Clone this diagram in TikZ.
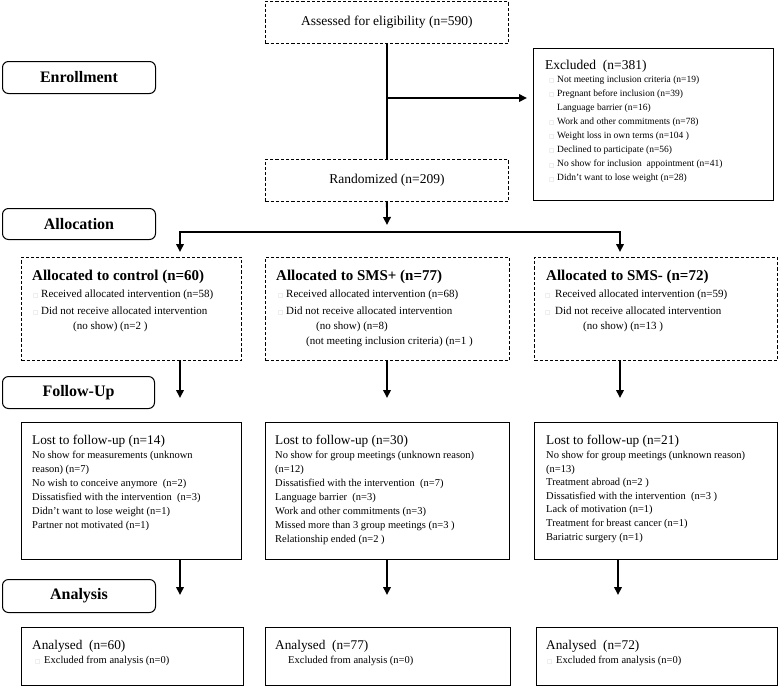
\documentclass[tikz,border=0pt]{standalone}
\usepackage{fontspec}
\setmainfont{Liberation Serif}
\newfontfamily\symfont{DejaVu Sans}
\usetikzlibrary{arrows.meta}
\newcommand\fsz[1]{\fontsize{#1}{#1}\selectfont}
\newcommand\bul{{\symfont\color{gray!45}\fsz{5.5}□}}
\begin{document}
\begin{tikzpicture}[x=1pt,y=-1pt,
  dbox/.style={draw, dash pattern=on 3.2pt off 2pt, line width=0.85pt, inner sep=0, anchor=north west},
  sbox/.style={draw, line width=0.95pt, inner sep=0, anchor=north west},
  stage/.style={draw, rounded corners=6pt, line width=1pt, inner sep=0, anchor=north west, font=\bfseries\fsz{16}},
  conn/.style={line width=1.9pt},
  arr/.style={conn, -{Triangle[length=8pt,width=7.5pt]}},
  t/.style={inner sep=0, anchor=west},
  head/.style={inner sep=0, font=\fsz{13.5}},
  ttl/.style={t, font=\bfseries\fsz{15}},
  ai/.style={t, font=\fsz{11}},
  ei/.style={t, font=\fsz{9.5}},
  li/.style={t, font=\fsz{10.5}},
  lt/.style={t, font=\fsz{13.3}},
  nt/.style={t, font=\fsz{13.3}},
  ni/.style={t, font=\fsz{10.5}}]
\useasboundingbox (0,0) rectangle (778,686);
\fill[white] (0,0) rectangle (778,686);

% ---- boxes
\node[dbox, minimum width=243, minimum height=42] (assess) at (265,1) {};
\node[head] (assessT) at (assess.center) {Assessed for eligibility (n=590)};
\node[sbox, minimum width=240, minimum height=152] (excl) at (533,48) {};
\node[dbox, minimum width=243, minimum height=42] (rand) at (265,159) {};
\node[head] (randT) at (rand.center) {Randomized (n=209)};

\node[stage, minimum width=153, minimum height=32] (enr) at (2,61) {Enrollment};
\node[stage, minimum width=153, minimum height=31] (alloc) at (2,208) {Allocation};
\node[stage, minimum width=152, minimum height=32] (fol) at (2,376) {Follow-Up};
\node[stage, minimum width=153, minimum height=33] (ana) at (2,579) {Analysis};

\node[dbox, minimum width=220, minimum height=103] (ac) at (21,257) {};
\node[dbox, minimum width=244, minimum height=103] (ap) at (265,257) {};
\node[dbox, minimum width=243, minimum height=103] (am) at (534,257) {};

\node[sbox, minimum width=220, minimum height=137] (lc) at (21,422) {};
\node[sbox, minimum width=244, minimum height=137] (lp) at (265,422) {};
\node[sbox, minimum width=243, minimum height=137] (lm) at (534,422) {};

\node[sbox, minimum width=222, minimum height=58] (nc) at (21,627) {};
\node[sbox, minimum width=245, minimum height=58] (np) at (265,627) {};
\node[sbox, minimum width=241, minimum height=58] (nm) at (536,627) {};

% ---- excluded text
\node[t, font=\fsz{13.5}] (exT) at (545,66) {Excluded\ \ (n=381)};
\foreach \b/\s [count=\i] in {1/Not meeting inclusion criteria (n=19),
  1/Pregnant before inclusion (n=39), 0/Language barrier (n=16),
  1/Work and other commitments (n=78), 1/Weight loss in own terms (n=104 ),
  1/Declined to participate (n=56), 1/No show for inclusion\ \ appointment (n=41),
  1/Didn’t want to lose weight (n=28)}{
  \node[ei] (ex\i) at (557,{80+14.1*(\i-1)}) {\s};
  \ifnum\b=1 \node[t] (exb\i) at (549,{81+14.1*(\i-1)}) {\bul};\fi
}

% ---- allocation text
\node[ttl] (acT) at (32,277) {Allocated to control (n=60)};
\node[ai] (ac1) at (33,295) {\makebox[8pt][l]{\bul}Received allocated intervention (n=58)};
\node[ai] (ac2) at (33,311) {\makebox[8pt][l]{\bul}Did not receive allocated intervention};
\node[ai] (ac3) at (73,327) {(no show) (n=2 )};

\node[ttl] (apT) at (276,277) {Allocated to SMS+ (n=77)};
\node[ai] (ap1) at (278,295) {\makebox[8pt][l]{\bul}Received allocated intervention (n=68)};
\node[ai] (ap2) at (278,311) {\makebox[8pt][l]{\bul}Did not receive allocated intervention};
\node[ai] (ap3) at (316,327) {(no show) (n=8)};
\node[ai] (ap4) at (306,342) {(not meeting inclusion criteria) (n=1 )};

\node[ttl] (amT) at (546,277) {Allocated to SMS- (n=72)};
\node[ai] (am1) at (545,295) {\makebox[10pt][l]{\bul}Received allocated intervention (n=59)};
\node[ai] (am2) at (545,311) {\makebox[10pt][l]{\bul}Did not receive allocated intervention};
\node[ai] (am3) at (583,327) {(no show) (n=13 )};

% ---- lost to follow-up text
\node[lt] (lcT) at (32,441) {Lost to follow-up (n=14)};
\foreach \s [count=\i] in {No show for measurements (unknown, reason) (n=7),
  No wish to conceive anymore\ \ (n=2), Dissatisfied with the intervention\ \ (n=3),
  Didn’t want to lose weight (n=1), Partner not motivated (n=1)}{
  \node[li] (lc\i) at (32,{456+14*(\i-1)}) {\s};
}
\node[lt] (lpT) at (275,441) {Lost to follow-up (n=30)};
\foreach \s [count=\i] in {No show for group meetings (unknown reason), (n=12),
  Dissatisfied with the intervention\ \ (n=7), Language barrier\ \ (n=3),
  Work and other commitments (n=3), Missed more than 3 group meetings (n=3 ),
  Relationship ended (n=2 )}{
  \node[li] (lp\i) at (275,{456+14*(\i-1)}) {\s};
}
\node[lt] (lmT) at (546,441) {Lost to follow-up (n=21)};
\foreach \s [count=\i] in {No show for group meetings (unknown reason), (n=13),
  Treatment abroad (n=2 ), Dissatisfied with the intervention\ \ (n=3 ),
  Lack of motivation (n=1), Treatment for breast cancer (n=1),
  Bariatric surgery (n=1)}{
  \node[li] (lm\i) at (546,{456+13.6*(\i-1)}) {\s};
}

% ---- analysis text
\node[nt] (ncT) at (32,646) {Analysed\ \ (n=60)};
\node[ni] (nc1) at (35,661) {\makebox[9pt][l]{\bul}Excluded from analysis (n=0)};
\node[nt] (npT) at (275,646) {Analysed\ \ (n=77)};
\node[ni] (np1) at (288,661) {Excluded from analysis (n=0)};
\node[nt] (nmT) at (546,646) {Analysed\ \ (n=72)};
\node[ni] (nm1) at (547,661) {\makebox[9pt][l]{\bul}Excluded from analysis (n=0)};

% ---- connectors
\draw[conn] (assess.south) -- (rand.north);
\coordinate (j1) at (387,98);
\draw[arr, shorten >=6pt] (j1) -- (j1 -| excl.west);
\coordinate (rtip) at (387,225);
\draw[arr] (rand.south) -- (rtip);
\coordinate (hl) at (180,232);
\coordinate (hr) at (620,232);
\draw[conn] ([xshift=-0.95pt]hl) -- ([xshift=0.95pt]hr);
\draw[arr, shorten >=5pt] (hl) -- (hl |- ac.north);
\draw[arr, shorten >=5pt] (hr) -- (hr |- am.north);

\coordinate (f1) at (180,398);
\coordinate (f2) at (387,398);
\coordinate (f3) at (620,398);
\draw[arr] (f1 |- ac.south) -- (f1);
\draw[arr] (f2 |- ap.south) -- (f2);
\draw[arr] (f3 |- am.south) -- (f3);

\coordinate (g1) at (180,595);
\coordinate (g2) at (387,595);
\coordinate (g3) at (618,595);
\draw[arr] (g1 |- lc.south) -- (g1);
\draw[arr] (g2 |- lp.south) -- (g2);
\draw[arr] (g3 |- lm.south) -- (g3);
\end{tikzpicture}
\end{document}
